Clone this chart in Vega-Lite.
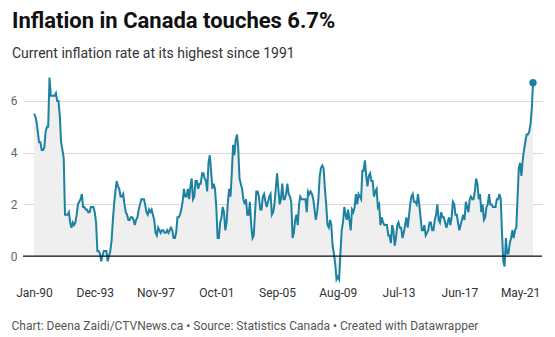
{
  "$schema": "https://vega.github.io/schema/vega-lite/v6.json",
  "width": 519,
  "height": 207,
  "autosize": {"type": "none"},
  "padding": {"left": 23, "top": 75, "right": 13, "bottom": 55},
  "background": "white",
  "config": {
    "view": {"stroke": null},
    "font": "Roboto"
  },
  "title": {
    "text": "Inflation in Canada touches 6.7%",
    "subtitle": "Current inflation rate at its highest since 1991",
    "anchor": "start",
    "frame": "group",
    "dx": -11,
    "offset": 12,
    "font": "Roboto",
    "fontSize": 22,
    "fontWeight": "bold",
    "color": "#111111",
    "subtitleFont": "Roboto",
    "subtitleFontSize": 14,
    "subtitleColor": "#333333",
    "subtitlePadding": 14,
    "limit": 540
  },
  "datasets": {
    "cpi": [
      {"date":"1990-01-01","v":5.5},{"date":"1990-02-01","v":5.4},{"date":"1990-03-01","v":5.2},{"date":"1990-04-01","v":4.8},{"date":"1990-05-01","v":4.4},{"date":"1990-06-01","v":4.4},{"date":"1990-07-01","v":4.1},{"date":"1990-08-01","v":4.1},{"date":"1990-09-01","v":4.2},{"date":"1990-10-01","v":4.8},{"date":"1990-11-01","v":5.0},{"date":"1990-12-01","v":5.0},
      {"date":"1991-01-01","v":6.9},{"date":"1991-02-01","v":6.2},{"date":"1991-03-01","v":6.2},{"date":"1991-04-01","v":6.2},{"date":"1991-05-01","v":6.2},{"date":"1991-06-01","v":6.3},{"date":"1991-07-01","v":6.0},{"date":"1991-08-01","v":6.0},{"date":"1991-09-01","v":5.4},{"date":"1991-10-01","v":4.4},{"date":"1991-11-01","v":4.1},{"date":"1991-12-01","v":3.8},
      {"date":"1992-01-01","v":1.6},{"date":"1992-02-01","v":1.6},{"date":"1992-03-01","v":1.6},{"date":"1992-04-01","v":1.7},{"date":"1992-05-01","v":1.3},{"date":"1992-06-01","v":1.1},{"date":"1992-07-01","v":1.3},{"date":"1992-08-01","v":1.2},{"date":"1992-09-01","v":1.3},{"date":"1992-10-01","v":1.6},{"date":"1992-11-01","v":2.0},{"date":"1992-12-01","v":2.1},
      {"date":"1993-01-01","v":2.2},{"date":"1993-02-01","v":2.4},{"date":"1993-03-01","v":1.9},{"date":"1993-04-01","v":1.9},{"date":"1993-05-01","v":1.8},{"date":"1993-06-01","v":1.8},{"date":"1993-07-01","v":1.7},{"date":"1993-08-01","v":1.7},{"date":"1993-09-01","v":1.9},{"date":"1993-10-01","v":1.9},{"date":"1993-11-01","v":1.9},{"date":"1993-12-01","v":1.7},
      {"date":"1994-01-01","v":1.3},{"date":"1994-02-01","v":0.2},{"date":"1994-03-01","v":0.2},{"date":"1994-04-01","v":0.1},{"date":"1994-05-01","v":-0.2},{"date":"1994-06-01","v":0.0},{"date":"1994-07-01","v":0.2},{"date":"1994-08-01","v":0.2},{"date":"1994-09-01","v":0.2},{"date":"1994-10-01","v":-0.2},{"date":"1994-11-01","v":0.0},{"date":"1994-12-01","v":0.2},
      {"date":"1995-01-01","v":0.6},{"date":"1995-02-01","v":1.4},{"date":"1995-03-01","v":2.0},{"date":"1995-04-01","v":2.5},{"date":"1995-05-01","v":2.9},{"date":"1995-06-01","v":2.7},{"date":"1995-07-01","v":2.6},{"date":"1995-08-01","v":2.3},{"date":"1995-09-01","v":2.3},{"date":"1995-10-01","v":2.4},{"date":"1995-11-01","v":2.0},{"date":"1995-12-01","v":1.7},
      {"date":"1996-01-01","v":1.6},{"date":"1996-02-01","v":1.4},{"date":"1996-03-01","v":1.4},{"date":"1996-04-01","v":1.5},{"date":"1996-05-01","v":1.5},{"date":"1996-06-01","v":1.4},{"date":"1996-07-01","v":1.2},{"date":"1996-08-01","v":1.4},{"date":"1996-09-01","v":1.5},{"date":"1996-10-01","v":1.8},{"date":"1996-11-01","v":2.0},{"date":"1996-12-01","v":2.2},
      {"date":"1997-01-01","v":2.2},{"date":"1997-02-01","v":2.2},{"date":"1997-03-01","v":2.0},{"date":"1997-04-01","v":1.7},{"date":"1997-05-01","v":1.6},{"date":"1997-06-01","v":1.8},{"date":"1997-07-01","v":1.7},{"date":"1997-08-01","v":1.8},{"date":"1997-09-01","v":1.6},{"date":"1997-10-01","v":1.4},{"date":"1997-11-01","v":0.9},{"date":"1997-12-01","v":0.8},
      {"date":"1998-01-01","v":1.1},{"date":"1998-02-01","v":1.0},{"date":"1998-03-01","v":0.9},{"date":"1998-04-01","v":1.0},{"date":"1998-05-01","v":1.0},{"date":"1998-06-01","v":0.9},{"date":"1998-07-01","v":0.9},{"date":"1998-08-01","v":1.0},{"date":"1998-09-01","v":0.9},{"date":"1998-10-01","v":1.0},{"date":"1998-11-01","v":1.1},{"date":"1998-12-01","v":1.0},
      {"date":"1999-01-01","v":0.7},{"date":"1999-02-01","v":0.7},{"date":"1999-03-01","v":0.9},{"date":"1999-04-01","v":1.5},{"date":"1999-05-01","v":1.5},{"date":"1999-06-01","v":1.6},{"date":"1999-07-01","v":1.8},{"date":"1999-08-01","v":2.1},{"date":"1999-09-01","v":2.6},{"date":"1999-10-01","v":2.3},{"date":"1999-11-01","v":2.3},{"date":"1999-12-01","v":2.6},
      {"date":"2000-01-01","v":2.2},{"date":"2000-02-01","v":2.7},{"date":"2000-03-01","v":3.0},{"date":"2000-04-01","v":2.2},{"date":"2000-05-01","v":2.3},{"date":"2000-06-01","v":2.9},{"date":"2000-07-01","v":2.9},{"date":"2000-08-01","v":2.6},{"date":"2000-09-01","v":2.8},{"date":"2000-10-01","v":2.8},{"date":"2000-11-01","v":3.2},{"date":"2000-12-01","v":3.2},
      {"date":"2001-01-01","v":3.0},{"date":"2001-02-01","v":2.9},{"date":"2001-03-01","v":2.5},{"date":"2001-04-01","v":3.6},{"date":"2001-05-01","v":3.9},{"date":"2001-06-01","v":3.3},{"date":"2001-07-01","v":2.6},{"date":"2001-08-01","v":2.8},{"date":"2001-09-01","v":2.6},{"date":"2001-10-01","v":1.9},{"date":"2001-11-01","v":0.7},{"date":"2001-12-01","v":0.7},
      {"date":"2002-01-01","v":1.3},{"date":"2002-02-01","v":1.5},{"date":"2002-03-01","v":1.9},{"date":"2002-04-01","v":1.7},{"date":"2002-05-01","v":1.0},{"date":"2002-06-01","v":1.3},{"date":"2002-07-01","v":2.1},{"date":"2002-08-01","v":2.6},{"date":"2002-09-01","v":2.3},{"date":"2002-10-01","v":3.2},{"date":"2002-11-01","v":4.3},{"date":"2002-12-01","v":3.9},
      {"date":"2003-01-01","v":4.5},{"date":"2003-02-01","v":4.7},{"date":"2003-03-01","v":4.2},{"date":"2003-04-01","v":3.0},{"date":"2003-05-01","v":2.8},{"date":"2003-06-01","v":2.6},{"date":"2003-07-01","v":2.2},{"date":"2003-08-01","v":2.0},{"date":"2003-09-01","v":2.2},{"date":"2003-10-01","v":1.6},{"date":"2003-11-01","v":1.6},{"date":"2003-12-01","v":2.1},
      {"date":"2004-01-01","v":1.2},{"date":"2004-02-01","v":0.7},{"date":"2004-03-01","v":0.8},{"date":"2004-04-01","v":1.7},{"date":"2004-05-01","v":2.5},{"date":"2004-06-01","v":2.5},{"date":"2004-07-01","v":2.3},{"date":"2004-08-01","v":1.8},{"date":"2004-09-01","v":1.8},{"date":"2004-10-01","v":2.3},{"date":"2004-11-01","v":2.4},{"date":"2004-12-01","v":2.1},
      {"date":"2005-01-01","v":1.9},{"date":"2005-02-01","v":2.1},{"date":"2005-03-01","v":2.3},{"date":"2005-04-01","v":2.4},{"date":"2005-05-01","v":1.6},{"date":"2005-06-01","v":1.7},{"date":"2005-07-01","v":2.0},{"date":"2005-08-01","v":2.6},{"date":"2005-09-01","v":3.2},{"date":"2005-10-01","v":2.6},{"date":"2005-11-01","v":2.0},{"date":"2005-12-01","v":2.2},
      {"date":"2006-01-01","v":2.8},{"date":"2006-02-01","v":2.2},{"date":"2006-03-01","v":2.2},{"date":"2006-04-01","v":2.4},{"date":"2006-05-01","v":2.8},{"date":"2006-06-01","v":2.4},{"date":"2006-07-01","v":2.3},{"date":"2006-08-01","v":2.1},{"date":"2006-09-01","v":0.7},{"date":"2006-10-01","v":0.9},{"date":"2006-11-01","v":1.4},{"date":"2006-12-01","v":1.6},
      {"date":"2007-01-01","v":1.2},{"date":"2007-02-01","v":2.0},{"date":"2007-03-01","v":2.3},{"date":"2007-04-01","v":2.2},{"date":"2007-05-01","v":2.2},{"date":"2007-06-01","v":2.2},{"date":"2007-07-01","v":2.2},{"date":"2007-08-01","v":1.7},{"date":"2007-09-01","v":2.5},{"date":"2007-10-01","v":2.4},{"date":"2007-11-01","v":2.5},{"date":"2007-12-01","v":2.4},
      {"date":"2008-01-01","v":2.2},{"date":"2008-02-01","v":1.8},{"date":"2008-03-01","v":1.4},{"date":"2008-04-01","v":1.7},{"date":"2008-05-01","v":2.2},{"date":"2008-06-01","v":3.1},{"date":"2008-07-01","v":3.4},{"date":"2008-08-01","v":3.5},{"date":"2008-09-01","v":3.4},{"date":"2008-10-01","v":2.6},{"date":"2008-11-01","v":2.0},{"date":"2008-12-01","v":1.2},
      {"date":"2009-01-01","v":1.1},{"date":"2009-02-01","v":1.4},{"date":"2009-03-01","v":1.2},{"date":"2009-04-01","v":0.4},{"date":"2009-05-01","v":0.1},{"date":"2009-06-01","v":-0.3},{"date":"2009-07-01","v":-0.9},{"date":"2009-08-01","v":-0.8},{"date":"2009-09-01","v":-0.9},{"date":"2009-10-01","v":0.1},{"date":"2009-11-01","v":1.0},{"date":"2009-12-01","v":1.3},
      {"date":"2010-01-01","v":1.9},{"date":"2010-02-01","v":1.6},{"date":"2010-03-01","v":1.4},{"date":"2010-04-01","v":1.8},{"date":"2010-05-01","v":1.4},{"date":"2010-06-01","v":1.0},{"date":"2010-07-01","v":1.8},{"date":"2010-08-01","v":1.7},{"date":"2010-09-01","v":1.9},{"date":"2010-10-01","v":2.4},{"date":"2010-11-01","v":2.0},{"date":"2010-12-01","v":2.4},
      {"date":"2011-01-01","v":2.3},{"date":"2011-02-01","v":2.2},{"date":"2011-03-01","v":3.3},{"date":"2011-04-01","v":3.3},{"date":"2011-05-01","v":3.7},{"date":"2011-06-01","v":3.1},{"date":"2011-07-01","v":2.7},{"date":"2011-08-01","v":3.1},{"date":"2011-09-01","v":3.2},{"date":"2011-10-01","v":2.9},{"date":"2011-11-01","v":2.9},{"date":"2011-12-01","v":2.3},
      {"date":"2012-01-01","v":2.5},{"date":"2012-02-01","v":2.6},{"date":"2012-03-01","v":1.9},{"date":"2012-04-01","v":2.0},{"date":"2012-05-01","v":1.2},{"date":"2012-06-01","v":1.5},{"date":"2012-07-01","v":1.3},{"date":"2012-08-01","v":1.2},{"date":"2012-09-01","v":1.2},{"date":"2012-10-01","v":1.2},{"date":"2012-11-01","v":0.8},{"date":"2012-12-01","v":0.8},
      {"date":"2013-01-01","v":0.5},{"date":"2013-02-01","v":1.2},{"date":"2013-03-01","v":1.0},{"date":"2013-04-01","v":0.4},{"date":"2013-05-01","v":0.7},{"date":"2013-06-01","v":1.2},{"date":"2013-07-01","v":1.3},{"date":"2013-08-01","v":1.1},{"date":"2013-09-01","v":1.1},{"date":"2013-10-01","v":0.7},{"date":"2013-11-01","v":0.9},{"date":"2013-12-01","v":1.2},
      {"date":"2014-01-01","v":1.5},{"date":"2014-02-01","v":1.1},{"date":"2014-03-01","v":1.5},{"date":"2014-04-01","v":2.0},{"date":"2014-05-01","v":2.3},{"date":"2014-06-01","v":2.4},{"date":"2014-07-01","v":2.1},{"date":"2014-08-01","v":2.1},{"date":"2014-09-01","v":2.0},{"date":"2014-10-01","v":2.4},{"date":"2014-11-01","v":2.0},{"date":"2014-12-01","v":1.5},
      {"date":"2015-01-01","v":1.0},{"date":"2015-02-01","v":1.0},{"date":"2015-03-01","v":1.2},{"date":"2015-04-01","v":0.8},{"date":"2015-05-01","v":0.9},{"date":"2015-06-01","v":1.0},{"date":"2015-07-01","v":1.3},{"date":"2015-08-01","v":1.3},{"date":"2015-09-01","v":1.0},{"date":"2015-10-01","v":1.0},{"date":"2015-11-01","v":1.4},{"date":"2015-12-01","v":1.6},
      {"date":"2016-01-01","v":2.0},{"date":"2016-02-01","v":1.4},{"date":"2016-03-01","v":1.3},{"date":"2016-04-01","v":1.7},{"date":"2016-05-01","v":1.5},{"date":"2016-06-01","v":1.5},{"date":"2016-07-01","v":1.3},{"date":"2016-08-01","v":1.1},{"date":"2016-09-01","v":1.3},{"date":"2016-10-01","v":1.5},{"date":"2016-11-01","v":1.2},{"date":"2016-12-01","v":1.5},
      {"date":"2017-01-01","v":2.1},{"date":"2017-02-01","v":2.0},{"date":"2017-03-01","v":1.6},{"date":"2017-04-01","v":1.6},{"date":"2017-05-01","v":1.3},{"date":"2017-06-01","v":1.0},{"date":"2017-07-01","v":1.2},{"date":"2017-08-01","v":1.4},{"date":"2017-09-01","v":1.6},{"date":"2017-10-01","v":1.4},{"date":"2017-11-01","v":2.1},{"date":"2017-12-01","v":1.9},
      {"date":"2018-01-01","v":1.7},{"date":"2018-02-01","v":2.2},{"date":"2018-03-01","v":2.3},{"date":"2018-04-01","v":2.2},{"date":"2018-05-01","v":2.2},{"date":"2018-06-01","v":2.5},{"date":"2018-07-01","v":3.0},{"date":"2018-08-01","v":2.8},{"date":"2018-09-01","v":2.2},{"date":"2018-10-01","v":2.4},{"date":"2018-11-01","v":1.7},{"date":"2018-12-01","v":2.0},
      {"date":"2019-01-01","v":1.4},{"date":"2019-02-01","v":1.5},{"date":"2019-03-01","v":1.9},{"date":"2019-04-01","v":2.0},{"date":"2019-05-01","v":2.4},{"date":"2019-06-01","v":2.0},{"date":"2019-07-01","v":2.0},{"date":"2019-08-01","v":1.9},{"date":"2019-09-01","v":1.9},{"date":"2019-10-01","v":1.9},{"date":"2019-11-01","v":2.2},{"date":"2019-12-01","v":2.2},
      {"date":"2020-01-01","v":2.4},{"date":"2020-02-01","v":2.2},{"date":"2020-03-01","v":0.9},{"date":"2020-04-01","v":-0.2},{"date":"2020-05-01","v":-0.4},{"date":"2020-06-01","v":0.7},{"date":"2020-07-01","v":0.1},{"date":"2020-08-01","v":0.1},{"date":"2020-09-01","v":0.5},{"date":"2020-10-01","v":0.7},{"date":"2020-11-01","v":1.0},{"date":"2020-12-01","v":0.7},
      {"date":"2021-01-01","v":1.0},{"date":"2021-02-01","v":1.1},{"date":"2021-03-01","v":2.2},{"date":"2021-04-01","v":3.4},{"date":"2021-05-01","v":3.6},{"date":"2021-06-01","v":3.1},{"date":"2021-07-01","v":3.7},{"date":"2021-08-01","v":4.1},{"date":"2021-09-01","v":4.4},{"date":"2021-10-01","v":4.7},{"date":"2021-11-01","v":4.7},{"date":"2021-12-01","v":4.8},
      {"date":"2022-01-01","v":5.1},{"date":"2022-02-01","v":5.7},{"date":"2022-03-01","v":6.7}
    ]
  },
  "layer": [
    {
      "data": {"name": "cpi"},
      "encoding": {
        "x": {
          "field": "date",
          "type": "temporal",
          "scale": {"type": "utc", "domain": [{"year": 1989, "month": 4, "date": 17, "utc": true}, {"year": 2022, "month": 9, "date": 29, "utc": true}]},
          "axis": {
            "values": [
              {"year": 1990, "month": 1, "date": 1, "utc": true},
              {"year": 1993, "month": 12, "date": 1, "utc": true},
              {"year": 1997, "month": 11, "date": 1, "utc": true},
              {"year": 2001, "month": 10, "date": 1, "utc": true},
              {"year": 2005, "month": 9, "date": 1, "utc": true},
              {"year": 2009, "month": 8, "date": 1, "utc": true},
              {"year": 2013, "month": 7, "date": 1, "utc": true},
              {"year": 2017, "month": 6, "date": 1, "utc": true},
              {"year": 2021, "month": 5, "date": 1, "utc": true}
            ],
            "labelExpr": "utcFormat(datum.value, '%b-%y')",
            "grid": false,
            "ticks": false,
            "domain": false,
            "labelColor": "#333333",
            "labelFontSize": 12,
            "labelFont": "Roboto",
            "labelPadding": 5,
            "labelFlush": false,
            "labelOverlap": false,
            "title": "Chart: Deena Zaidi/CTVNews.ca • Source: Statistics Canada • Created with Datawrapper",
            "titleFont": "Roboto",
            "titleFontSize": 12,
            "titleFontWeight": "normal",
            "titleColor": "#555555",
            "titleAnchor": "start",
            "titleAlign": "left",
            "titleX": -12,
            "titleY": 38,
            "titleBaseline": "top"
          }
        },
        "y": {
          "field": "v",
          "type": "quantitative",
          "scale": {"domain": [-1, 7], "nice": false},
          "axis": {
            "values": [0, 2, 4, 6],
            "grid": true,
            "gridColor": "#d9d9d9",
            "gridWidth": 1,
            "ticks": false,
            "domain": false,
            "labelColor": "#666666",
            "labelFontSize": 12,
            "labelFont": "Roboto",
            "labelPadding": 6,
            "title": null
          }
        }
      },
      "layer": [
        {"mark": {"type": "area", "color": "#efefef", "opacity": 1}},
        {"mark": {"type": "line", "color": "#1d81a2", "strokeWidth": 2}},
        {"transform": [{"filter": "datum.v == 6.7"}], "mark": {"type": "point", "filled": true, "color": "#1d81a2", "size": 55, "opacity": 1}}
      ]
    },
    {
      "data": {"values": [{"zero": 0}]},
      "mark": {"type": "rule", "color": "#111111", "strokeWidth": 1.2},
      "encoding": {"y": {"field": "zero", "type": "quantitative"}}
    }
  ]
}
